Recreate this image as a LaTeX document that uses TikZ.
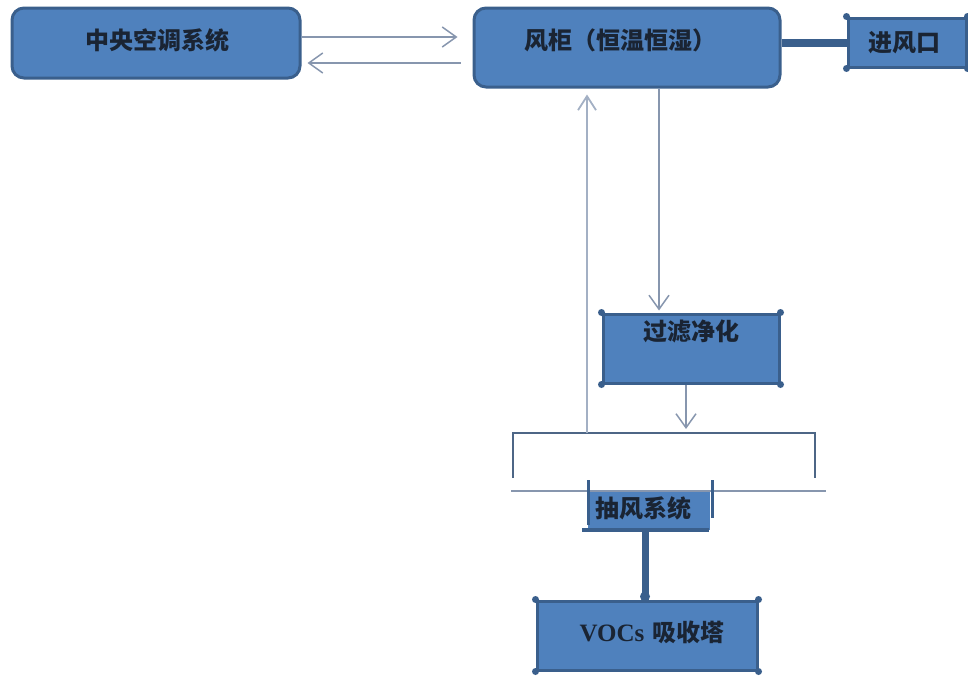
\documentclass[tikz,border=0pt]{standalone}
\usepackage{fontspec}
\setmainfont{Liberation Serif}
\newfontfamily\cjk{Noto Sans CJK SC}
\usetikzlibrary{arrows.meta,calc}
\definecolor{boxfill}{HTML}{4F81BD}
\definecolor{bdr}{HTML}{3A5F8C}
\definecolor{arr}{HTML}{8796AE}
\definecolor{arrl}{HTML}{A3B0C4}
\definecolor{txt}{HTML}{1A2433}
\definecolor{brk}{HTML}{4D6686}
\begin{document}
\begin{tikzpicture}[x=1pt,y=-1pt,
  rbox/.style={draw=bdr,line width=3pt,fill=boxfill,rounded corners=12pt,inner sep=0pt},
  sbox/.style={draw=bdr,line width=3pt,fill=boxfill,inner sep=0pt},
  fbox/.style={fill=boxfill,inner sep=0pt},
  lbl/.style={text=txt,font=\cjk\bfseries\fontsize{24pt}{26pt}\selectfont,inner sep=0pt},
  flow/.style={draw=arr,line width=1.5pt,-{Straight Barb[length=14pt,width=20pt,line width=1.5pt]}},
  flowl/.style={draw=arrl,line width=2pt,-{Straight Barb[length=14pt,width=18pt,line width=1.8pt]}},
  bar/.style={draw=bdr,line width=8pt},
  cdot/.style={fill=bdr,draw=none}
]
\useasboundingbox (0,0) rectangle (968,675);
% boxes
\node[rbox,minimum width=288pt,minimum height=70pt] (ac) at (156,43) {};
\node[lbl] (act) at (157,40) {中央空调系统};
\node[rbox,minimum width=306pt,minimum height=79pt] (fg) at (627,47.5) {};
\node[lbl] (fgt) at (620,40) {风柜（恒温恒湿）};
\node[sbox,minimum width=118pt,minimum height=49pt] (jf) at (907,42.5) {};
\node[lbl] (jft) at (904,43) {进风口};
\node[sbox,minimum width=176pt,minimum height=69pt] (flt) at (691,348.5) {};
\node[lbl] (fltt) at (691,331) {过滤净化};
\node[fbox,minimum width=122pt,minimum height=39pt] (cf) at (649,510.5) {};
\node[lbl] (cft) at (643,508) {抽风系统};
\node[sbox,minimum width=220pt,minimum height=69pt] (voc) at (647,635.5) {};
\node[lbl] (voct) at (652,632) {{\rmfamily\bfseries\fontsize{25pt}{27pt}\selectfont VOCs}\hspace{8pt}吸收塔};
% corner dots
\foreach \n in {jf,flt,voc}{
  \foreach \a in {north west,north east,south west,south east}{
    \fill[cdot] (\n.\a) circle (3.5pt);
  }
}
% thick bar fg -> jf
\draw[bar] (jf.west -| fg.east) -- (jf.west);
% arrows between ac and fg
\draw[flow,shorten >=15pt] ([yshift=6pt]ac.east) -- ([yshift=6pt]ac.east -| fg.west);
\draw[flow,shorten >=6pt,shorten <=12pt] ([yshift=-20pt]ac.east -| fg.west) -- ([yshift=-20pt]ac.east);
% bracket
\coordinate (bl) at (513,433);
\coordinate (br) at (815,433);
\coordinate (bld) at (513,478);
\coordinate (brd) at (815,478);
\draw[brk,line width=2.2pt] (bld) -- (bl) -- (br) -- (brd);
\coordinate (hl) at (511,491);
\coordinate (hr) at (826,491);
\draw[arr,line width=2.5pt] (hl) -- (hr);
% fg <-> bracket
\draw[flowl,shorten >=6pt] ([xshift=-40pt]fg.south |- bl) -- ([xshift=-40pt]fg.south);
\draw[flow,line width=1.3pt,shorten >=2pt] ([xshift=32pt]fg.south) -- ([xshift=32pt]fg.south |- flt.north);
\draw[flow,line width=1.3pt,shorten >=4pt] ([xshift=-5pt]flt.south) -- ([xshift=-5pt]flt.south |- bl);
% cf decorations
\draw[bdr,line width=3pt] (588,480) -- (588,525);
\draw[bdr,line width=3pt] (712,480) -- (712,518);
\draw[bdr,line width=4.5pt] (582,530) -- (709,530);
% thick connector cf -> voc
\draw[draw=bdr,line width=7pt] ([xshift=-4pt]cf.south) -- ([xshift=-4pt]cf.south |- voc.north);
\fill[cdot] ([xshift=-4pt,yshift=3pt]cf.south |- voc.north) circle (5pt);
\end{tikzpicture}
\end{document}
